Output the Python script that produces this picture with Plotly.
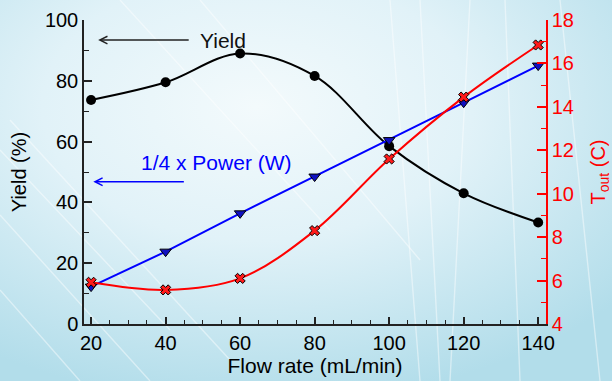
import base64
import plotly.graph_objects as go

# ---- data ----
flow_rate = [20, 40, 60, 80, 100, 120, 140]
yield_pct = [73.7, 79.5, 89.0, 81.6, 58.5, 43.0, 33.4]
quarter_power = [12.3, 23.8, 36.4, 48.5, 60.5, 72.8, 85.0]
t_out = [5.92, 5.57, 6.1, 8.3, 11.6, 14.45, 16.85]

x_ticks = [20, 40, 60, 80, 100, 120, 140]
y_ticks = [0, 20, 40, 60, 80, 100]
y2_ticks = [4, 6, 8, 10, 12, 14, 16, 18]

FONT = "Liberation Sans, Arial, sans-serif"

# ---- decorative background (gradient + light streaks) ----
svg = """<svg xmlns='http://www.w3.org/2000/svg' width='612' height='381' viewBox='0 0 612 381' preserveAspectRatio='none'>
<defs>
<radialGradient id='g' cx='0.42' cy='0.28' r='0.78'>
<stop offset='0' stop-color='#f3fafc'/>
<stop offset='0.45' stop-color='#e1f2f8'/>
<stop offset='1' stop-color='#b2ddea'/>
</radialGradient>
</defs>
<rect width='612' height='381' fill='url(#g)'/>
<g stroke='#ffffff' stroke-opacity='0.45' fill='none' stroke-width='1.4'>
<line x1='0' y1='150' x2='170' y2='330'/>
<line x1='0' y1='215' x2='150' y2='381'/>
<line x1='0' y1='290' x2='80' y2='381'/>
<line x1='10' y1='120' x2='230' y2='360'/>
<line x1='120' y1='0' x2='330' y2='230'/>
<line x1='200' y1='0' x2='420' y2='260'/>
<line x1='390' y1='0' x2='420' y2='381'/>
<line x1='420' y1='0' x2='440' y2='381'/>
<line x1='470' y1='0' x2='450' y2='381'/>
<line x1='505' y1='0' x2='520' y2='381'/>
<line x1='560' y1='0' x2='600' y2='381'/>
</g>
</svg>"""
bg_uri = "data:image/svg+xml;base64," + base64.b64encode(svg.encode()).decode()

W, H = 612, 381
ML, MR, MT, MB = 84, 66, 20, 57
PW, PH = W - ML - MR, H - MT - MB

fig = go.Figure()

fig.add_trace(go.Scatter(
    x=flow_rate, y=yield_pct, mode="lines+markers",
    line=dict(color="black", width=2, shape="spline", smoothing=1.0),
    marker=dict(symbol="circle", size=10, color="black"),
    name="Yield", yaxis="y"))

fig.add_trace(go.Scatter(
    x=flow_rate, y=quarter_power, mode="lines+markers",
    line=dict(color="#0000ff", width=2),
    marker=dict(symbol="triangle-down", size=10, color="#1010c0",
                line=dict(color="black", width=1)),
    name="1/4 x Power (W)", yaxis="y"))

fig.add_trace(go.Scatter(
    x=flow_rate, y=t_out, mode="lines+markers",
    line=dict(color="#ff0000", width=2, shape="spline", smoothing=1.0),
    marker=dict(symbol="x", size=9, color="#ff1a1a",
                line=dict(color="black", width=1)),
    name="T_out", yaxis="y2"))

fig.update_layout(
    width=W, height=H,
    margin=dict(l=ML, r=MR, t=MT, b=MB, pad=0, autoexpand=False),
    paper_bgcolor="#d8eef5",
    plot_bgcolor="rgba(0,0,0,0)",
    showlegend=False,
    font=dict(family=FONT, size=20, color="black"),
    images=[dict(source=bg_uri, xref="paper", yref="paper",
                 x=-ML / PW, y=1 + MT / PH, sizex=W / PW, sizey=H / PH,
                 xanchor="left", yanchor="top", sizing="stretch",
                 layer="below")],
    xaxis=dict(
        range=[18.1, 142.1], tickmode="array", tickvals=x_ticks,
        automargin=False,
        ticks="inside", ticklen=7, tickwidth=1.5, tickcolor="#222",
        showline=True, linecolor="#222", linewidth=1.5,
        showgrid=False, zeroline=False,
        tickfont=dict(size=20, color="black"),
        minor=dict(dtick=5, tick0=20, ticks="inside", ticklen=4,
                   tickwidth=1.2, tickcolor="#222", showgrid=False),
        title=dict(text="Flow rate (mL/min)", font=dict(size=21),
                   standoff=3),
    ),
    yaxis=dict(
        range=[0, 100], tickmode="array", tickvals=y_ticks,
        automargin=False,
        ticks="inside", ticklen=8, tickwidth=1.5, tickcolor="#222",
        showline=True, linecolor="#222", linewidth=1.5,
        showgrid=False, zeroline=False,
        tickfont=dict(size=20, color="black"),
        minor=dict(dtick=10, tick0=0, ticks="inside", ticklen=5,
                   tickwidth=1.2, tickcolor="#222", showgrid=False),
        title=dict(text="Yield (%)", font=dict(size=20), standoff=13),
    ),
    yaxis2=dict(
        range=[4, 18], tickmode="array", tickvals=y2_ticks,
        overlaying="y", side="right", anchor="x", automargin=False,
        ticks="inside", ticklen=9, tickwidth=1.5, tickcolor="#ff0000",
        showline=True, linecolor="#ff0000", linewidth=1.5,
        showgrid=False, zeroline=False,
        tickfont=dict(size=20, color="#ff0000"),
        minor=dict(dtick=1, tick0=4, ticks="inside", ticklen=5,
                   tickwidth=1.2, tickcolor="#ff0000", showgrid=False),
        title=dict(text="T<sub>out</sub> (C)", font=dict(size=20, color="#ff0000"),
                   standoff=18),
    ),
    annotations=[
        dict(x=21.9, y=93.4, xref="x", yref="y", ax=46.6, ay=93.4,
             axref="x", ayref="y", showarrow=True, arrowhead=5,
             arrowsize=1, arrowwidth=1.5, arrowcolor="#222", text=""),
        dict(x=55.3, y=93.2, xref="x", yref="y", text="Yield",
             showarrow=False, font=dict(size=21, color="#111")),
        dict(x=20.6, y=46.8, xref="x", yref="y", ax=45.3, ay=46.8,
             axref="x", ayref="y", showarrow=True, arrowhead=5,
             arrowsize=1, arrowwidth=1.5, arrowcolor="#0000ff", text=""),
        dict(x=53.6, y=53.0, xref="x", yref="y", text="1/4 x Power (W)",
             showarrow=False, font=dict(size=21, color="#0000ff")),
    ],
)

fig.write_html(
    "out.html",
    config={"displayModeBar": False},
    post_script="document.body.style.margin='0';document.body.style.overflow='hidden';",
)
